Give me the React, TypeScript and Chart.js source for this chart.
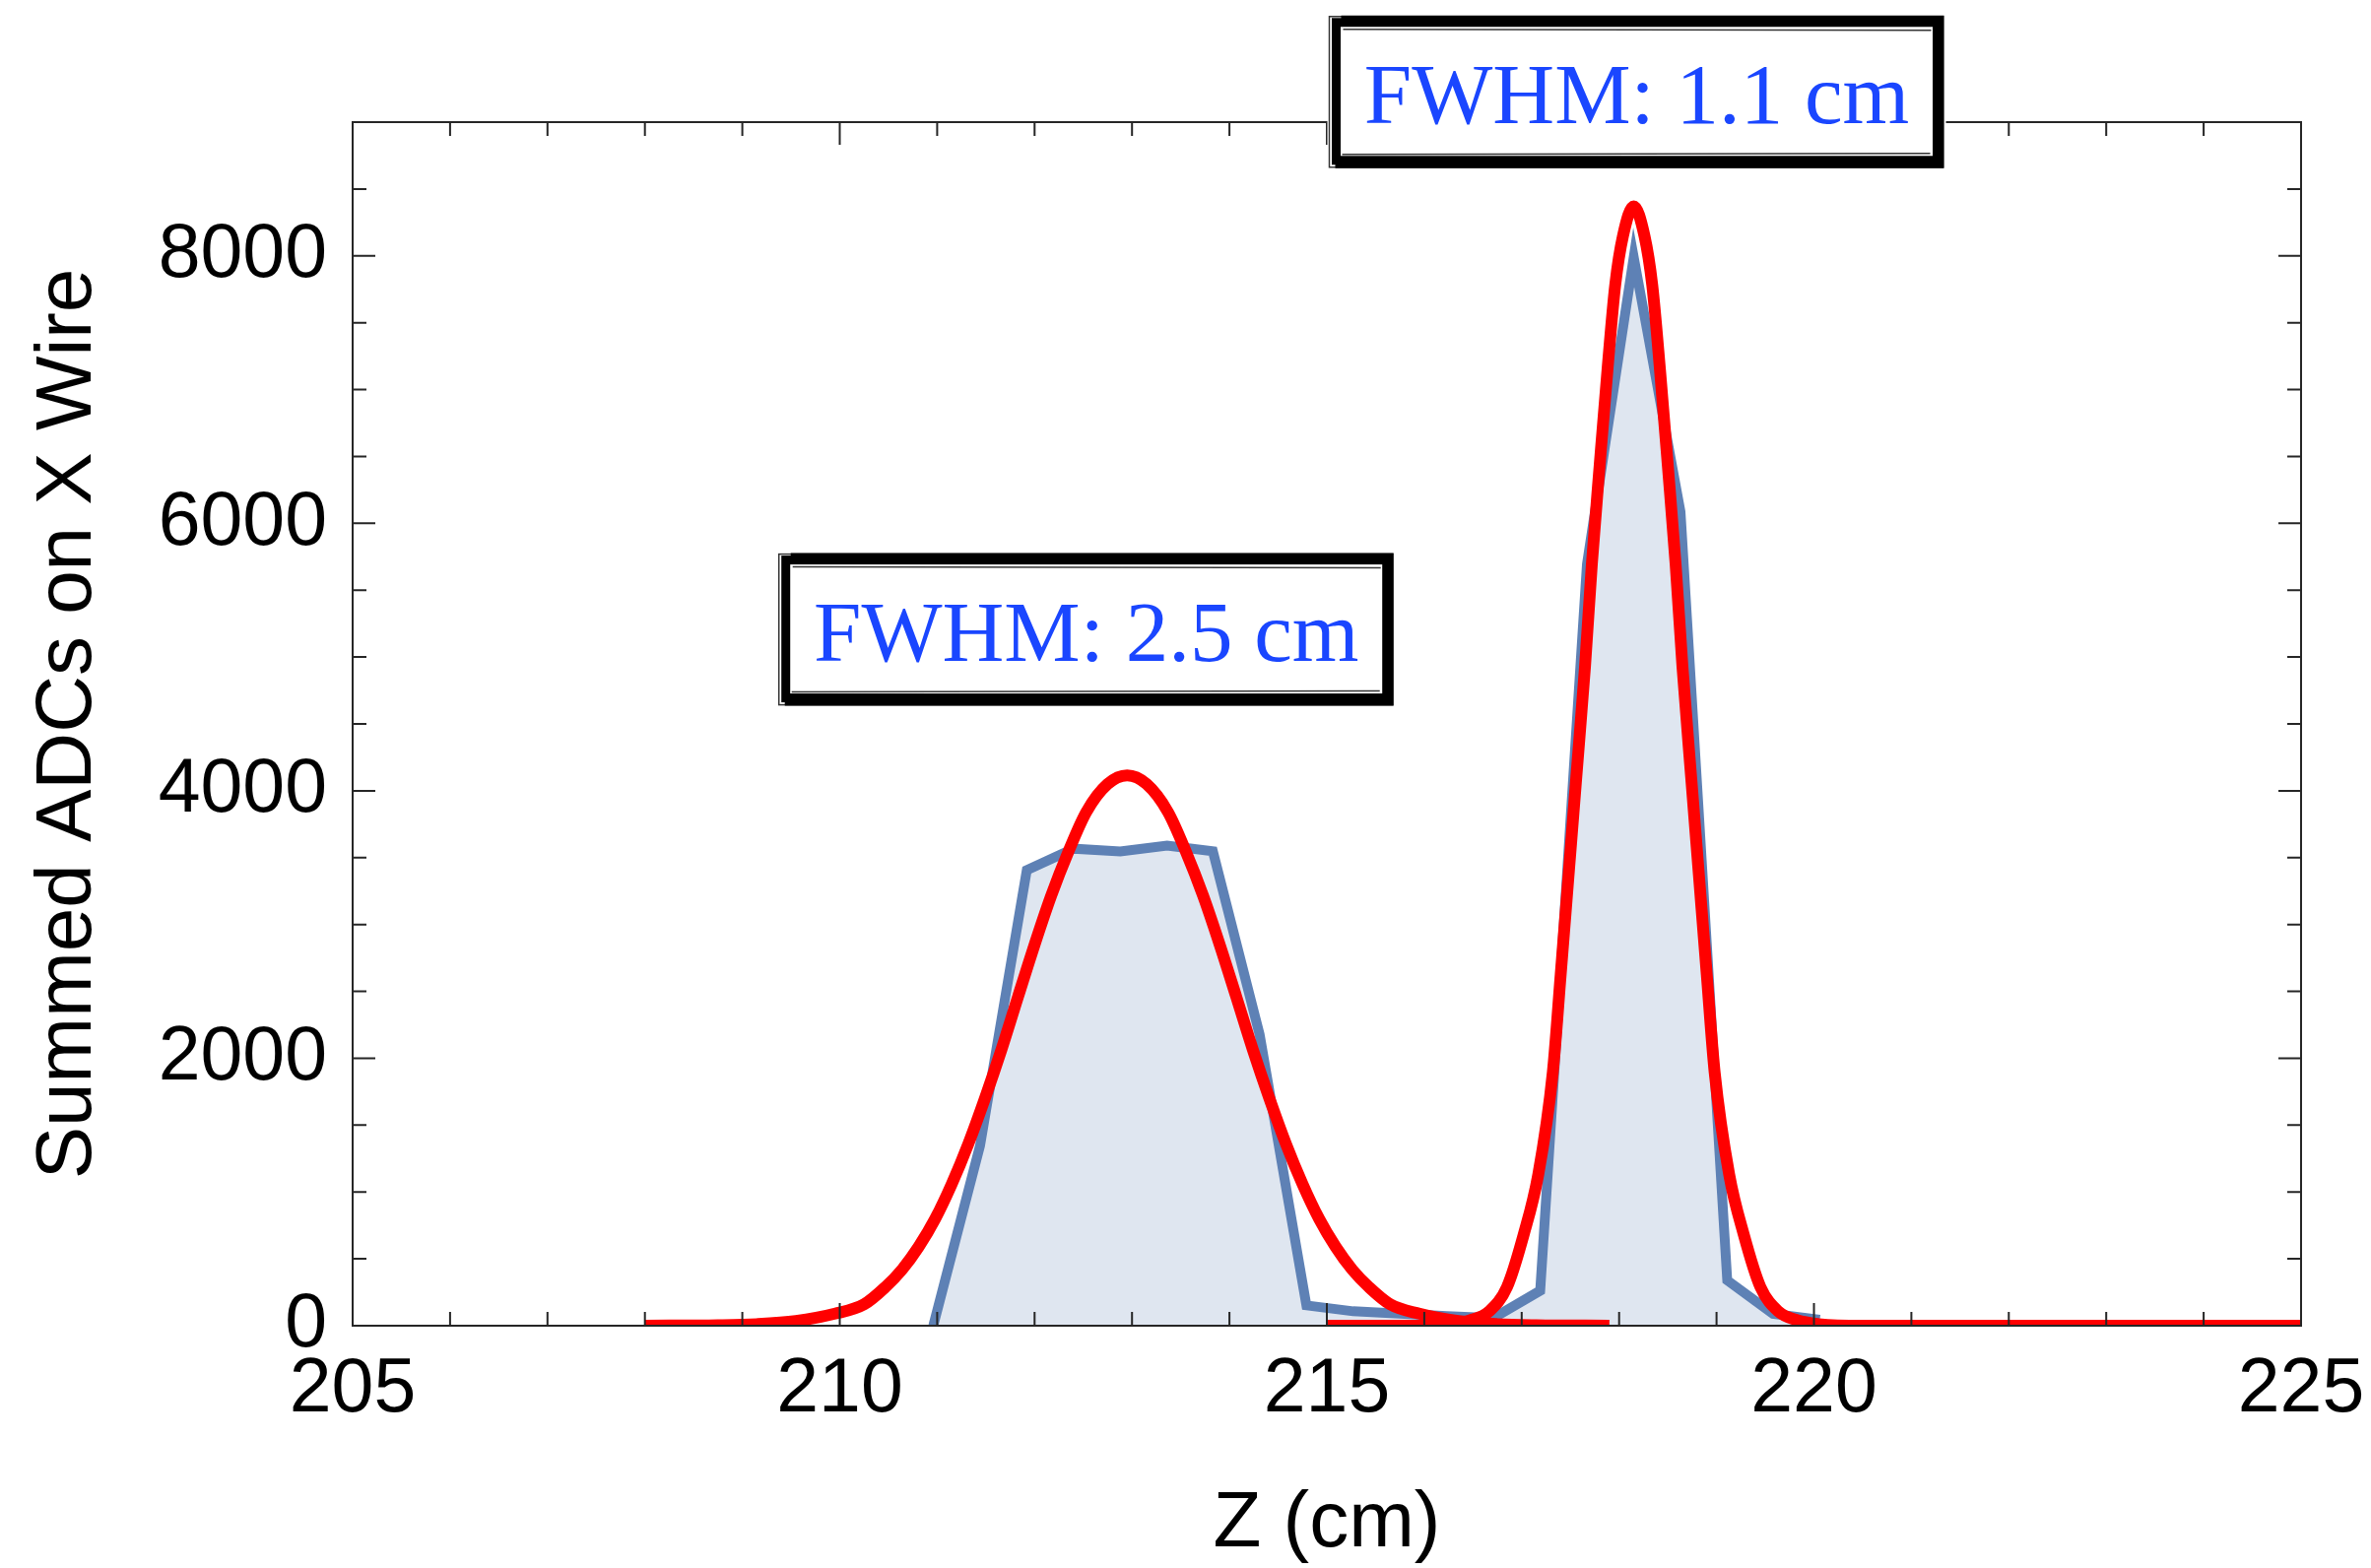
import React, { useEffect, useRef } from 'react';
import { Chart, registerables } from 'chart.js';

Chart.register(...registerables);

// Summed ADC histogram (wire positions, cm) and values
const WIRE_Z = [210.96, 211.44, 211.92, 212.40, 212.88, 213.36, 213.83, 214.31, 214.79, 215.27, 215.75, 216.23, 216.71, 217.19, 217.67, 218.15, 218.63, 219.11, 219.58, 220.06];
const WIRE_ADC = [0, 1346, 3407, 3567, 3547, 3590, 3547, 2177, 152, 108, 90, 72, 58, 262, 5694, 7990, 6087, 339, 88, 45];

// Fit curve 1
const FIT1_Z = [208.0, 208.75, 209.15, 209.55, 209.95, 210.25, 210.47, 210.64, 210.81, 210.98, 211.15, 211.32, 211.49, 211.66, 211.83, 212.0, 212.17, 212.35, 212.53, 212.75, 212.95, 213.15, 213.37, 213.55, 213.73, 213.9, 214.07, 214.24, 214.41, 214.58, 214.75, 214.92, 215.09, 215.26, 215.43, 215.65, 215.95, 216.35, 216.75, 217.15, 217.9];
const FIT1_ADC = [0, 4, 12, 35, 90, 160, 290, 420, 590, 800, 1060, 1360, 1700, 2065, 2460, 2850, 3215, 3550, 3840, 4050, 4115, 4050, 3840, 3550, 3215, 2850, 2460, 2065, 1700, 1360, 1060, 800, 590, 420, 290, 160, 90, 35, 12, 4, 0];

// Fit curve 2
const FIT2_Z = [215.0, 216.0, 216.25, 216.47, 216.67, 216.85, 217.02, 217.17, 217.32, 217.40, 217.48, 217.56, 217.65, 217.72, 217.80, 217.88, 217.96, 218.04, 218.15, 218.26, 218.34, 218.42, 218.50, 218.58, 218.65, 218.74, 218.82, 218.90, 218.98, 219.13, 219.28, 219.45, 219.63, 219.83, 220.05, 220.5, 225.0];
const FIT2_ADC = [0, 0, 12, 40, 110, 290, 680, 1130, 1900, 2623, 3360, 4097, 4930, 5694, 6431, 7143, 7782, 8150, 8371, 8150, 7782, 7143, 6431, 5694, 4930, 4097, 3360, 2623, 1900, 1130, 680, 290, 110, 40, 12, 0, 0];

const X_TICKS = [205, 210, 215, 220, 225];
const Y_TICKS = [0, 2000, 4000, 6000, 8000];
const X_MINOR = [205, 206, 207, 208, 209, 210, 211, 212, 213, 214, 215, 216, 217, 218, 219, 220, 221, 222, 223, 224, 225];
const Y_MINOR = [0, 500, 1000, 1500, 2000, 2500, 3000, 3500, 4000, 4500, 5000, 5500, 6000, 6500, 7000, 7500, 8000, 8500, 9000];

const LABEL_TEXTS = ['FWHM: 2.5 cm', 'FWHM: 1.1 cm'];
const LABEL_Z = [212.53, 218.18];
const LABEL_ADC = [5210, 9230];

const toXY = (xs: number[], ys: number[]) => xs.map((x, i) => ({ x, y: ys[i] }));

function sketchBox(ctx: CanvasRenderingContext2D, cx: number, cy: number, w: number, h: number) {
  const l = cx - w / 2;
  const t = cy - h / 2;
  ctx.save();
  ctx.fillStyle = '#ffffff';
  ctx.fillRect(l, t, w, h);
  ctx.strokeStyle = '#000000';
  // main heavy frame
  ctx.lineWidth = 9;
  ctx.strokeRect(l + 9, t + 9, w - 18, h - 18);
  // heavier right / bottom / top bands
  ctx.lineWidth = 6;
  ctx.beginPath();
  ctx.moveTo(l + 14, t + 5);
  ctx.lineTo(l + w - 5, t + 5);
  ctx.lineTo(l + w - 5, t + h - 4);
  ctx.lineTo(l + 8, t + h - 4);
  ctx.stroke();
  // thin sketch lines
  ctx.lineWidth = 1.5;
  ctx.globalAlpha = 0.8;
  ctx.strokeRect(l + 2, t + 3, w - 5, h - 5);
  ctx.beginPath();
  ctx.moveTo(l + 16, t + 16);
  ctx.lineTo(l + w - 15, t + 17);
  ctx.moveTo(l + 15, t + h - 15);
  ctx.lineTo(l + w - 16, t + h - 16);
  ctx.stroke();
  ctx.restore();
}

const framePlugin = {
  id: 'mmaFrame',
  afterDatasetsDraw(chart: any) {
    const { ctx, chartArea } = chart;
    const { left, right, top, bottom } = chartArea;
    const xs = chart.scales.x;
    const ys = chart.scales.y;
    ctx.save();
    ctx.strokeStyle = '#262626';
    ctx.lineWidth = 2;
    ctx.beginPath();
    for (const v of X_MINOR) {
      const px = xs.getPixelForValue(v);
      const len = X_TICKS.includes(v) ? 23 : 14;
      ctx.moveTo(px, bottom);
      ctx.lineTo(px, bottom - len);
      ctx.moveTo(px, top);
      ctx.lineTo(px, top + len);
    }
    for (const v of Y_MINOR) {
      const py = ys.getPixelForValue(v);
      const len = Y_TICKS.includes(v) ? 23 : 14;
      ctx.moveTo(left, py);
      ctx.lineTo(left + len, py);
      ctx.moveTo(right, py);
      ctx.lineTo(right - len, py);
    }
    ctx.stroke();
    ctx.strokeRect(left, top, right - left, bottom - top);
    ctx.restore();
  },
  afterDraw(chart: any) {
    const { ctx } = chart;
    const xs = chart.scales.x;
    const ys = chart.scales.y;
    LABEL_TEXTS.forEach((txt, i) => {
      const cx = xs.getPixelForValue(LABEL_Z[i]);
      const cy = ys.getPixelForValue(LABEL_ADC[i]);
      const w = 628;
      const h = 158;
      sketchBox(ctx, cx, cy, w, h);
      ctx.save();
      ctx.fillStyle = '#1a46ff';
      ctx.font = '87px "Liberation Serif", "Times New Roman", serif';
      ctx.textAlign = 'center';
      ctx.textBaseline = 'alphabetic';
      ctx.fillText(txt, cx, cy - h / 2 + 111);
      ctx.restore();
    });
  },
};

export default function App() {
  const canvasRef = useRef<HTMLCanvasElement | null>(null);

  useEffect(() => {
    const canvas = canvasRef.current;
    if (!canvas) return;
    const yTickFont = { family: '"Liberation Sans", Arial, sans-serif', size: 77 };
    const xTickFont = { family: '"Liberation Sans", Arial, sans-serif', size: 77, lineHeight: 1.54 };
    const titleFont = { family: '"Liberation Sans", Arial, sans-serif', size: 80, lineHeight: 1 };
    const chart = new Chart(canvas, {
      type: 'line',
      data: {
        datasets: [
          {
            label: 'fit1',
            data: toXY(FIT1_Z, FIT1_ADC),
            borderColor: '#ff0000',
            borderWidth: 12,
            pointRadius: 0,
            fill: false,
            cubicInterpolationMode: 'monotone',
          },
          {
            label: 'fit2',
            data: toXY(FIT2_Z, FIT2_ADC),
            borderColor: '#ff0000',
            borderWidth: 12,
            pointRadius: 0,
            fill: false,
            cubicInterpolationMode: 'monotone',
          },
          {
            label: 'data',
            data: toXY(WIRE_Z, WIRE_ADC),
            borderColor: '#5e81b5',
            backgroundColor: 'rgba(94,129,181,0.2)',
            borderWidth: 10,
            pointRadius: 0,
            fill: 'origin',
            tension: 0,
          },
        ],
      },
      options: {
        animation: false,
        responsive: false,
        maintainAspectRatio: false,
        layout: { padding: { left: 0, top: 124, right: 71, bottom: 0 } },
        plugins: { legend: { display: false }, tooltip: { enabled: false } },
        scales: {
          x: {
            type: 'linear',
            min: 205,
            max: 225,
            grid: { display: false, drawTicks: false },
            border: { display: false },
            afterBuildTicks: (scale: any) => {
              scale.ticks = X_TICKS.map((v) => ({ value: v }));
            },
            afterFit: (scale: any) => {
              scale.height = 246;
            },
            ticks: {
              color: '#000',
              font: xTickFont,
              padding: 6,
              maxRotation: 0,
              autoSkip: false,
              callback: (v: any) => String(v),
            },
            title: {
              display: true,
              text: 'Z (cm)',
              color: '#000',
              font: titleFont,
              padding: { top: 0, bottom: 4 },
            },
          },
          y: {
            type: 'linear',
            min: 0,
            max: 9000,
            grid: { display: false, drawTicks: false },
            border: { display: false },
            afterBuildTicks: (scale: any) => {
              scale.ticks = Y_TICKS.map((v) => ({ value: v }));
            },
            afterFit: (scale: any) => {
              scale.width = 358;
            },
            ticks: {
              color: '#000',
              font: yTickFont,
              padding: 26,
              autoSkip: false,
              callback: (v: any) => String(v),
            },
            title: {
              display: true,
              text: 'Summed ADCs on X Wire',
              color: '#000',
              font: titleFont,
              padding: { top: 30, bottom: 0 },
            },
          },
        },
      },
      plugins: [framePlugin],
    } as any);
    return () => chart.destroy();
  }, []);

  return (
    <div style={{ position: 'fixed', left: 0, top: 0, width: 2407, height: 1592, background: '#fff' }}>
      <canvas ref={canvasRef} width={2407} height={1592} style={{ width: 2407, height: 1592, display: 'block' }} />
    </div>
  );
}
